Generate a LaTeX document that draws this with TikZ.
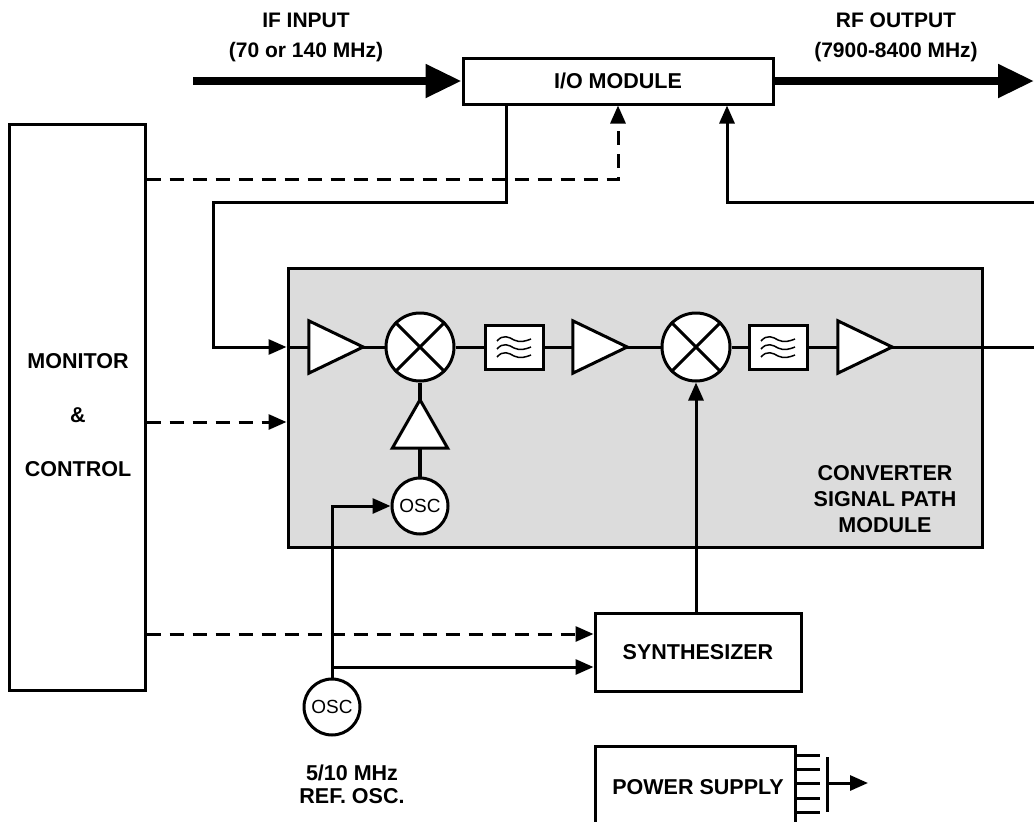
\documentclass[tikz,border=0pt]{standalone}
\usepackage{fontspec}
\setmainfont{Liberation Sans}
\usetikzlibrary{arrows.meta}
\definecolor{convgray}{RGB}{220,220,220}
\begin{document}
\begin{tikzpicture}[x=1pt,y=-1pt,
  wire/.style={line width=3pt},
  box/.style={draw, line width=3pt, fill=white, inner sep=0pt, font=\fontsize{21.5}{26}\selectfont\bfseries},
  arr/.style={line width=3pt, -{Triangle[length=18pt,width=15pt]}},
  big/.style={line width=8pt, -{Triangle[length=36pt,width=32pt]}},
  dsh/.style={dash pattern=on 14pt off 9pt},
  lbl/.style={font=\fontsize{21.5}{30}\selectfont\bfseries, align=center, inner sep=0pt},
  osc/.style={circle, draw, fill=white, line width=3pt, minimum size=56pt, inner sep=0pt, font=\fontsize{19}{19}\selectfont},
  mix/.style={circle, draw, fill=white, line width=3pt, minimum size=68pt, inner sep=0pt},
  amp/.style={minimum width=54pt, minimum height=52pt, inner sep=0pt},
  filt/.style={draw, fill=white, line width=3pt, minimum width=58pt, minimum height=44pt, inner sep=0pt},
  waves/.pic={\foreach \dy in {-8,0,8} {\draw[line width=1.5pt] (-17,\dy+2) .. controls (-11,\dy-5) and (-5,\dy-2) .. (0,\dy+1) .. controls (6,\dy+4) and (12,\dy+2) .. (17,\dy);}},
]
\useasboundingbox (0,0) rectangle (1034,822);
\fill[white] (0,0) rectangle (1034,822);

% top labels
\node[lbl, font=\fontsize{21}{30}\selectfont\bfseries] (iflbl) at (306,37) {IF INPUT\\(70 or 140 MHz)};
\node[lbl, font=\fontsize{21}{30}\selectfont\bfseries] (rflbl) at (896,37) {RF OUTPUT\\(7900-8400 MHz)};

% blocks
\node[box, minimum width=310pt, minimum height=46pt] (io) at (618,81) {I/O MODULE};
\node[box, minimum width=136pt, minimum height=566pt] (mc) at (77,407) {};
\node[lbl, font=\fontsize{21.5}{54}\selectfont\bfseries] (mct) at (78,415) {MONITOR\\\&\\CONTROL};
\node[draw, fill=convgray, line width=3pt, minimum width=694pt, minimum height=279pt, inner sep=0pt] (conv) at (635,407.5) {};
\node[lbl, font=\fontsize{21.5}{26}\selectfont\bfseries] (convt) at (885,499) {CONVERTER\\SIGNAL PATH\\MODULE};
\node[box, minimum width=206pt, minimum height=78pt] (syn) at (698,652) {SYNTHESIZER};
\node[box, minimum width=200pt, minimum height=95pt, anchor=north] (ps) at (695,745) {};
\node[lbl] (pst) at (698,787) {POWER SUPPLY};

% signal path elements
\node[amp] (a1) at (336,347) {};
\node[mix] (m1) at (420,347) {};
\node[filt] (f1) at (514,347) {};
\node[amp] (a2) at (600,347) {};
\node[mix] (m2) at (696,347) {};
\node[filt] (f2) at (778,347) {};
\node[amp] (a3) at (865,347) {};
\node[minimum width=55pt, minimum height=48pt, inner sep=0pt] (a4) at (420,424) {};
\node[osc] (osc1) at (420,506) {OSC};
\node[osc] (osc2) at (332,707) {OSC};
\node[lbl, font=\fontsize{21.5}{23}\selectfont\bfseries] (reflbl) at (352,784) {5/10 MHz\\REF. OSC.};

% shapes inside nodes
\foreach \a in {a1,a2,a3} {\filldraw[fill=white, wire] (\a.north west) -- (\a.east) -- (\a.south west) -- cycle;}
\filldraw[fill=white, wire] (a4.south west) -- (a4.north) -- (a4.south east) -- cycle;
\foreach \m in {m1,m2} {\draw[wire] (\m.north west) -- (\m.south east) (\m.north east) -- (\m.south west);}
\pic at (f1) {waves};
\pic at (f2) {waves};

% coordinates at the picture edge
\coordinate (ifin) at (193,81);
\coordinate (rfout) at (1034,81);
\coordinate (e1) at (1034,347);
\coordinate (e2) at (1034,202);
\coordinate (bendL) at (213,202);
\coordinate (br) at (332,667);

% thick IF / RF arrows
\draw[big] (ifin) -- (io.west);
\draw[big] (io.east) -- (rfout);

% signal path wiring
\draw[arr] ([xshift=-112pt]io.south) |- (bendL) |- (conv.west |- a1.west);
\draw[wire] (conv.west |- a1.west) -- (a1.west);
\draw[wire] (a1.east) -- (m1.west);
\draw[wire] (m1.east) -- (f1.west);
\draw[wire] (f1.east) -- (a2.west);
\draw[wire] (a2.east) -- (m2.west);
\draw[wire] (m2.east) -- (f2.west);
\draw[wire] (f2.east) -- (a3.west);
\draw[wire] (a3.east) -- (e1);
\draw[arr] (e2) -| ([xshift=109pt]io.south);
\draw[line width=4.5pt] (m1.south) -- (a4.north);
\draw[line width=4.5pt] (a4.south) -- (osc1.north);

% monitor & control (dashed)
\draw[wire, dsh, arr] (mc.east |- 0,179) -| (io.south);
\draw[wire, dsh, arr] (mc.east |- 0,422) -- (conv.west |- 0,422);
\draw[wire, dsh, arr] (mc.east |- 0,634) -- (syn.west |- 0,634);

% reference oscillator
\draw[arr] (osc2.north) |- (osc1.west);
\draw[arr] (br) -- (br -| syn.west);
\draw[arr] (m2.south |- syn.north) -- (m2.south);

% power supply outputs
\foreach \yy in {755,769,783,798,812} {\draw[wire] (ps.east |- 0,\yy) -- ++(23,0);}
\coordinate (busT) at (827,757);
\coordinate (busB) at (827,812);
\coordinate (busM) at (827,783);
\coordinate (psout) at (868,783);
\draw[wire] (busT) -- (busB);
\draw[arr] (busM) -- (psout);
\end{tikzpicture}
\end{document}
